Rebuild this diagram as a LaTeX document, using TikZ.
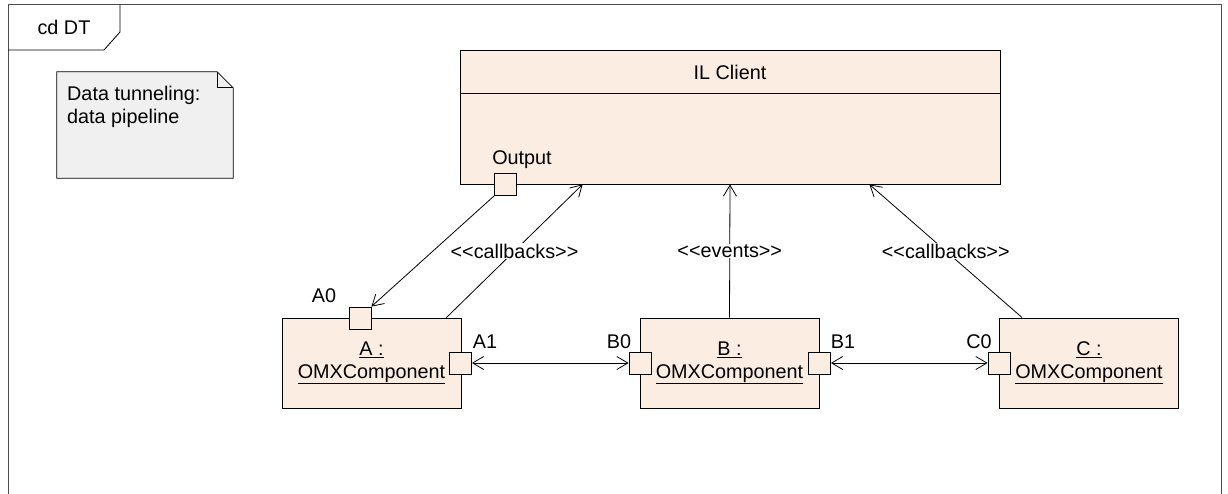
\documentclass[tikz,border=0pt]{standalone}
\usepackage{fontspec}
\setmainfont{Liberation Sans}
\usetikzlibrary{arrows.meta}

\definecolor{compfill}{RGB}{252,237,226}
\definecolor{notefill}{RGB}{240,240,240}

\begin{document}
\begin{tikzpicture}[x = 1pt, y = -1pt,
  every node/.style = {font=\fontsize{19.8}{22.5}\selectfont},
  comp/.style = {draw, fill=compfill, line width=0.8pt, minimum width=179pt, minimum height=90pt, align=center, inner sep=0pt},
  port/.style = {draw, fill=compfill, line width=0.8pt, minimum size=22pt, inner sep=0pt},
  link/.style = {line width=0.8pt},
  arrowlink/.style = {-{Straight Barb[length=11pt, width=13pt]}},
  duallink/.style = {{Straight Barb[length=11pt, width=13pt]}-{Straight Barb[length=11pt, width=13pt]}},
  lbl/.style = {fill=white, inner sep=1pt}]
  \useasboundingbox (0,0) rectangle (1228,494);

  % frame
  \draw[line width=1pt, black!70] (8,494) -- (8,5) -- (1221,5) -- (1221,494);
  \draw[line width=0.8pt] (8,50) -- (104,50) -- (120,32) -- (120,5);
  \node (framename) at (64,27) {cd DT};

  % note
  \node[minimum width=176pt, minimum height=106pt] (note) at (145,125) {};
  \draw[fill=notefill, line width=0.8pt] (note.north west) -- ([xshift=-16pt]note.north east) -- ([yshift=-16pt]note.north east) -- (note.south east) -- (note.south west) -- cycle;
  \draw[line width=0.8pt] ([xshift=-16pt]note.north east) -- ++(0,16) -- ++(16,0);
  \node[anchor=north west, inner sep=0pt, align=left] (notetext) at (67,86) {Data tunneling:\\data pipeline};

  % IL client
  \node[draw, fill=compfill, line width=0.8pt, minimum width=540pt, minimum height=134pt] (client) at (730,117) {};
  \draw[line width=0.8pt] ([yshift=-44pt]client.north west) -- ([yshift=-44pt]client.north east);
  \node (clientname) at (730,72) {IL Client};
  \node[port] (outp) at (505.5,184.5) {};
  \node (outplbl) at (522,160) {Output};

  % components
  \node[comp] (compA) at (371.5,363) {\underline{A :}\\\underline{OMXComponent}};
  \node[comp] (compB) at (729.5,363) {\underline{B :}\\\underline{OMXComponent}};
  \node[comp] (compC) at (1089,363) {\underline{C :}\\\underline{OMXComponent}};

  \node[port] (portA0) at (360,318) {};
  \node[port] (portA1) at (460.5,363) {};
  \node[port] (portB0) at (640,363) {};
  \node[port] (portB1) at (819.5,363) {};
  \node[port] (portC0) at (999,363) {};

  \node (lblA0) at (324,296) {A0};
  \node (lblA1) at (485,342) {A1};
  \node (lblB0) at (619,342) {B0};
  \node (lblB1) at (843,342) {B1};
  \node (lblC0) at (979,342) {C0};

  % connectors
  \draw[link, arrowlink] (outp.south west) -- (portA0.north east);
  \draw[link, arrowlink] ([xshift=-15pt]compA.north east) -- node[lbl] (cbA) {<{}<callbacks>{}>} ([xshift=123pt]client.south west);
  \draw[link, arrowlink] (compB.north) -- node[lbl] (ev) {<{}<events>{}>} (client.south);
  \draw[link, arrowlink] ([xshift=23pt]compC.north west) -- node[lbl] (cbC) {<{}<callbacks>{}>} ([xshift=-131pt]client.south east);
  \draw[link, duallink] (portA1.east) -- (portB0.west);
  \draw[link, duallink] (portB1.east) -- (portC0.west);
\end{tikzpicture}
\end{document}
